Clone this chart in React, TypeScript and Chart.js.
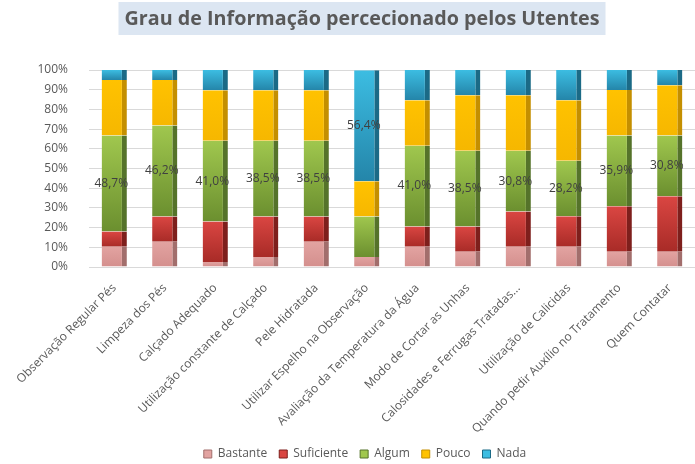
import React, { useEffect, useRef } from "react";
import { Chart, registerables } from "chart.js";

Chart.register(...registerables);

const chartTitle = "Grau de Informação percecionado pelos Utentes";

const categories = [
  "Observação Regular Pés",
  "Limpeza dos Pés",
  "Calçado Adequado",
  "Utilização constante de Calçado",
  "Pele Hidratada",
  "Utilizar Espelho na Observação",
  "Avaliação da Temperatura da Água",
  "Modo de Cortar as Unhas",
  "Calosidades e Ferrugas Tratadas...",
  "Utilização de Calicidas",
  "Quando pedir Auxílio no Tratamento",
  "Quem Contatar",
];

const seriesNames = ["Bastante", "Suficiente", "Algum", "Pouco", "Nada"];

const bastante = [10.3, 12.8, 2.6, 5.1, 12.8, 5.1, 10.3, 7.7, 10.3, 10.3, 7.7, 7.7];
const suficiente = [7.7, 12.8, 20.5, 20.5, 12.8, 0, 10.3, 12.8, 17.9, 15.4, 23.1, 28.2];
const algum = [48.7, 46.2, 41.0, 38.5, 38.5, 20.5, 41.0, 38.5, 30.8, 28.2, 35.9, 30.8];
const pouco = [28.2, 23.1, 25.6, 25.6, 25.6, 17.9, 23.1, 28.2, 28.2, 30.8, 23.1, 25.6];
const nada = [5.1, 5.1, 10.3, 10.3, 10.3, 56.4, 15.4, 12.8, 12.8, 15.4, 10.3, 7.7];

// category indices whose value label is shown, per series
const labelledPoints: number[][] = [
  [],
  [],
  [0, 1, 2, 3, 4, 6, 7, 8, 9, 10, 11],
  [],
  [5],
];

const yTickValues = [0, 10, 20, 30, 40, 50, 60, 70, 80, 90, 100];

const series = [bastante, suficiente, algum, pouco, nada];

// [front-top, front-bottom, side]
const palette: [string, string, string][] = [
  ["#e2a3a1", "#d48f8d", "#a26e6c"],
  ["#da4642", "#a82b27", "#7e1f1c"],
  ["#a0c74e", "#6b8f2f", "#55732a"],
  ["#ffc200", "#f6b700", "#c48f00"],
  ["#3cbde2", "#2485a9", "#1b6a86"],
];

function makeBg(ds: number) {
  return (c: any) => {
    const [top, bottom] = palette[ds];
    if (c.type !== "data") return top;
    const y = c.chart.scales && c.chart.scales.y;
    if (!y) return top;
    let start = 0;
    for (let k = 0; k < ds; k++) start += series[k][c.dataIndex];
    const end = start + series[ds][c.dataIndex];
    const y0 = y.getPixelForValue(end);
    const y1 = y.getPixelForValue(start);
    if (!isFinite(y0) || !isFinite(y1) || Math.abs(y1 - y0) < 1) return top;
    const g = c.chart.ctx.createLinearGradient(0, y0, 0, y1);
    g.addColorStop(0, top);
    g.addColorStop(1, bottom);
    return g;
  };
}

const titlePlugin = {
  id: "boxTitle",
  beforeDraw(chart: any) {
    const ctx = chart.ctx;
    const cx = 362;
    const cy = 19;
    ctx.save();
    ctx.font = "bold 20px 'Open Sans'";
    const natural = ctx.measureText(chartTitle).width;
    const w = Math.min(natural, 475);
    ctx.fillStyle = "#dce6f2";
    ctx.fillRect(cx - w / 2 - 6, 2, w + 12, 33);
    ctx.fillStyle = "#595959";
    ctx.textAlign = "center";
    ctx.textBaseline = "middle";
    ctx.fillText(chartTitle, cx, cy, 475);
    ctx.restore();
  },
};

const valueLabelPlugin = {
  id: "valueLabels",
  afterDatasetsDraw(chart: any) {
    const ctx = chart.ctx;
    ctx.save();
    ctx.font = "12px 'Open Sans'";
    ctx.fillStyle = "#404040";
    ctx.textAlign = "center";
    ctx.textBaseline = "middle";
    chart.data.datasets.forEach((ds: any, di: number) => {
      const meta = chart.getDatasetMeta(di);
      meta.data.forEach((el: any, i: number) => {
        if (!labelledPoints[di].includes(i)) return;
        const v = ds.data[i] as number;
        const txt = v.toFixed(1).replace(".", ",") + "%";
        ctx.fillText(txt, el.x - 3, (el.y + el.base) / 2);
      });
    });
    ctx.restore();
  },
};

export default function App() {
  const ref = useRef<HTMLCanvasElement | null>(null);

  useEffect(() => {
    if (!ref.current) return;
    const chart = new Chart(ref.current, {
      type: "bar",
      data: {
        labels: categories,
        datasets: series.map((data, i) => ({
          label: seriesNames[i],
          data,
          backgroundColor: makeBg(i),
          borderColor: palette[i][2],
          borderWidth: { top: 0, right: 5, bottom: 0, left: 0 },
          borderSkipped: false,
          barPercentage: 0.5,
          categoryPercentage: 1.0,
        })),
      },
      options: {
        responsive: false,
        animation: false,
        layout: { padding: { left: 35, right: 0, top: 70, bottom: -6 } },
        plugins: {
          legend: {
            position: "bottom",
            labels: {
              boxWidth: 8,
              boxHeight: 8,
              padding: 12,
              color: "#595959",
              font: { family: "'Open Sans'", size: 12 },
              generateLabels: () =>
                seriesNames.map((n, i) => ({
                  text: n,
                  fillStyle: palette[i][0],
                  strokeStyle: palette[i][2],
                  lineWidth: 1,
                  fontColor: "#595959",
                  datasetIndex: i,
                  hidden: false,
                })),
            },
          },
          title: { display: false },
          tooltip: { enabled: false },
        },
        scales: {
          x: {
            stacked: true,
            grid: { display: false },
            border: { display: false },
            ticks: {
              autoSkip: false,
              maxRotation: 45,
              minRotation: 45,
              padding: 6,
              color: "#595959",
              font: { family: "'Open Sans'", size: 12 },
            },
            afterFit: (s: any) => {
              s.height = 169;
            },
          },
          y: {
            stacked: true,
            min: 0,
            max: 100,
            afterBuildTicks: (s: any) => {
              s.ticks = yTickValues.map((v) => ({ value: v }));
            },
            grid: { color: "#d9d9d9", drawTicks: false },
            border: { display: false },
            ticks: {
              padding: 21,
              color: "#595959",
              font: { family: "'Open Sans'", size: 12 },
              callback: (v: any) => v + "%",
            },
            afterFit: (s: any) => {
              s.width = 54;
            },
          },
        },
      },
      plugins: [titlePlugin, valueLabelPlugin],
    });
    return () => chart.destroy();
  }, []);

  return (
    <div style={{ position: "fixed", left: 0, top: 0, width: 695, height: 464, background: "#fff" }}>
      <canvas ref={ref} width={695} height={464} style={{ display: "block" }} />
    </div>
  );
}
